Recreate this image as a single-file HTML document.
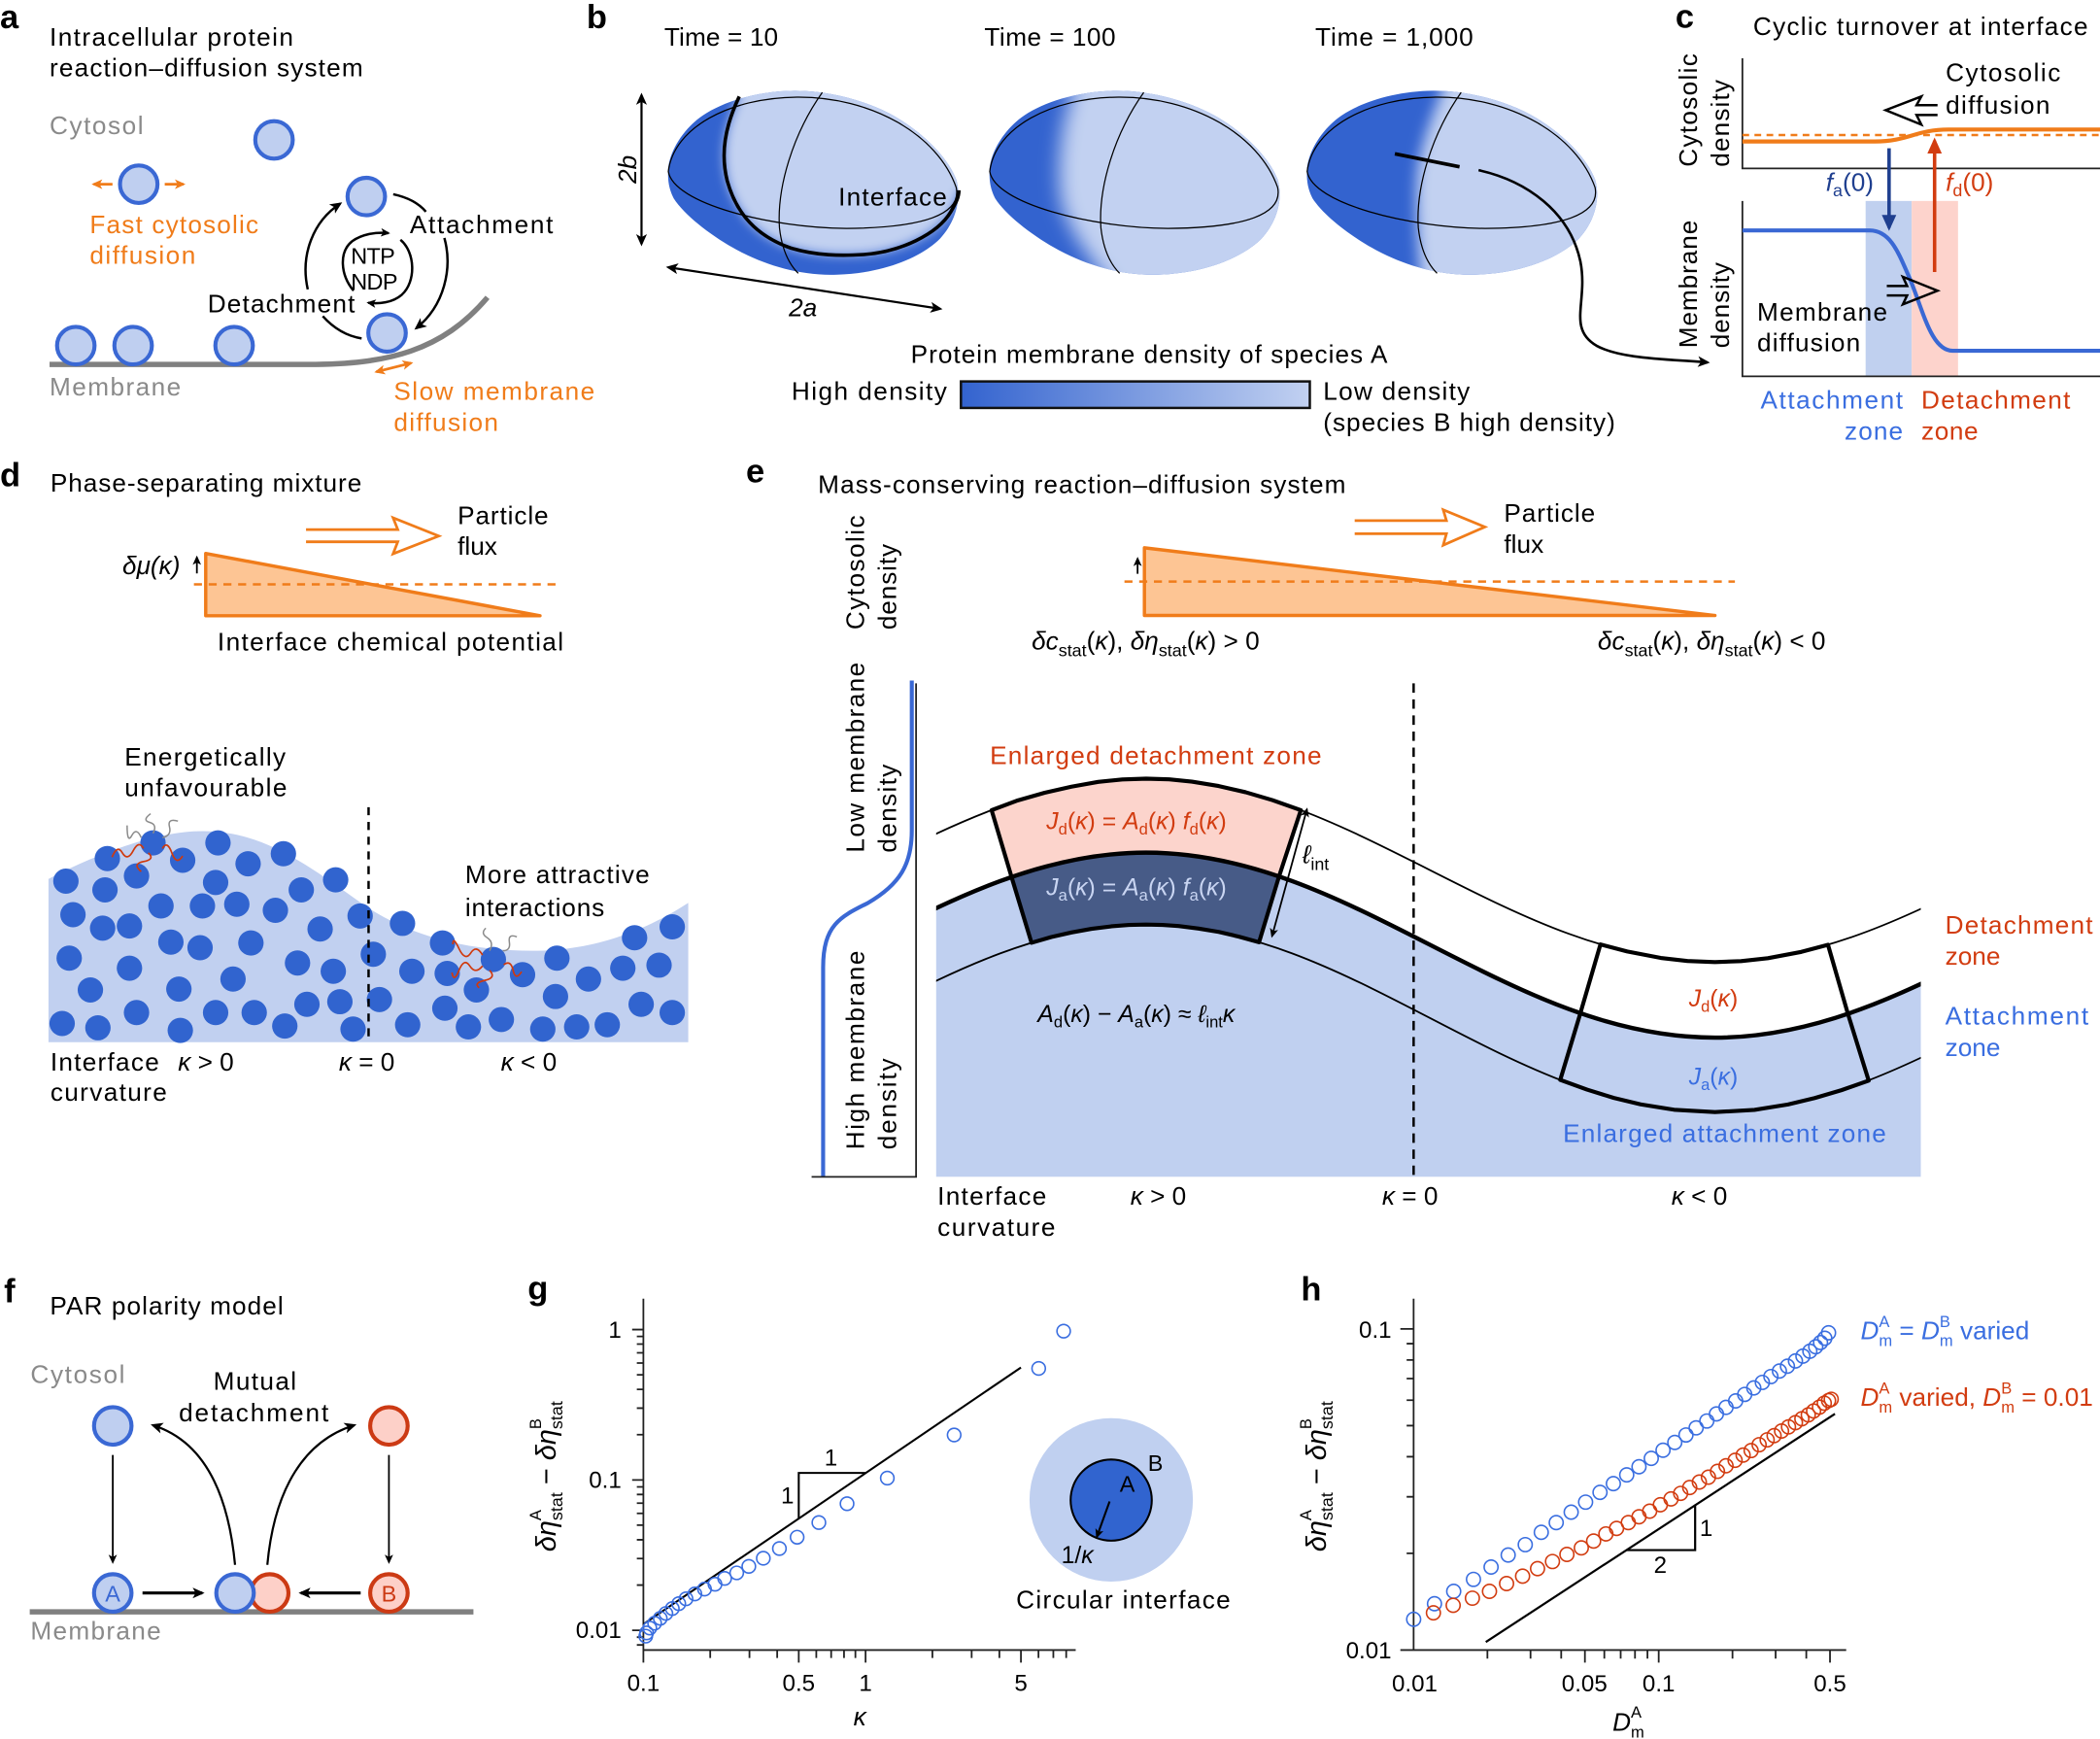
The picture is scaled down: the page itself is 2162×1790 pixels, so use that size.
<!DOCTYPE html>
<html><head><meta charset="utf-8"><style>
html,body{margin:0;padding:0;background:#fff;}
svg{display:block;}
text{font-family:"Liberation Sans",Arial,sans-serif;}
</style></head><body>
<svg width="2162" height="1790" viewBox="0 0 1568 1298" preserveAspectRatio="none" xmlns="http://www.w3.org/2000/svg">
<defs>
<marker id="mk" viewBox="0 0 10 10" refX="8" refY="5" markerWidth="9" markerHeight="9" markerUnits="userSpaceOnUse" orient="auto-start-reverse"><path d="M0,0.5 L10,5 L0,9.5 L2.5,5 Z" fill="#000"/></marker>
<marker id="mks" viewBox="0 0 10 10" refX="8" refY="5" markerWidth="7" markerHeight="7" markerUnits="userSpaceOnUse" orient="auto-start-reverse"><path d="M0,0.5 L10,5 L0,9.5 L2.5,5 Z" fill="#000"/></marker>
<marker id="mkO" viewBox="0 0 10 10" refX="8" refY="5" markerWidth="8" markerHeight="8" markerUnits="userSpaceOnUse" orient="auto-start-reverse"><path d="M0,0.5 L10,5 L0,9.5 L2.5,5 Z" fill="#f07c1a"/></marker>
<marker id="mkN" viewBox="0 0 10 10" refX="8" refY="5" markerWidth="12" markerHeight="12" markerUnits="userSpaceOnUse" orient="auto-start-reverse"><path d="M0,0.5 L10,5 L0,9.5 Z" fill="#1f3f8f"/></marker>
<marker id="mkR" viewBox="0 0 10 10" refX="8" refY="5" markerWidth="12" markerHeight="12" markerUnits="userSpaceOnUse" orient="auto-start-reverse"><path d="M0,0.5 L10,5 L0,9.5 Z" fill="#d23c10"/></marker>
<linearGradient id="cbar" x1="0" x2="1" y1="0" y2="0"><stop offset="0" stop-color="#3363cf"/><stop offset="1" stop-color="#c2d1f1"/></linearGradient>
<filter id="bl4" x="-50%" y="-50%" width="200%" height="200%"><feGaussianBlur stdDeviation="4"/></filter>
<filter id="bl7" x="-50%" y="-50%" width="200%" height="200%"><feGaussianBlur stdDeviation="7"/></filter>
<filter id="bl5" x="-50%" y="-50%" width="200%" height="200%"><feGaussianBlur stdDeviation="5"/></filter>
<clipPath id="el1"><path d="M498.8,128 C499,114 510,96 525,86 C540,76 565,68 593,67.7 C620,67.5 650,76 670,88 C690,100 708,118 714,134 C718,148 714,165 702,178 C688,192 660,204 625,205 C600,206 575,199 555,189 C535,179 512,162 503,148 C499,140 498.8,134 498.8,128 Z"/></clipPath>
<clipPath id="el2"><path transform="translate(240,0)" d="M498.8,128 C499,114 510,96 525,86 C540,76 565,68 593,67.7 C620,67.5 650,76 670,88 C690,100 708,118 714,134 C718,148 714,165 702,178 C688,192 660,204 625,205 C600,206 575,199 555,189 C535,179 512,162 503,148 C499,140 498.8,134 498.8,128 Z"/></clipPath>
<clipPath id="el3"><path transform="translate(477,0)" d="M498.8,128 C499,114 510,96 525,86 C540,76 565,68 593,67.7 C620,67.5 650,76 670,88 C690,100 708,118 714,134 C718,148 714,165 702,178 C688,192 660,204 625,205 C600,206 575,199 555,189 C535,179 512,162 503,148 C499,140 498.8,134 498.8,128 Z"/></clipPath>
<clipPath id="eclip"><rect x="699" y="400" width="735.2" height="478.4"/></clipPath>
</defs>

<!-- ================= PANEL A ================= -->
<text x="0" y="21" font-size="25" font-weight="bold">a</text>
<text x="37" y="34" font-size="19" textLength="182">Intracellular protein</text>
<text x="37" y="57" font-size="19" textLength="234">reaction–diffusion system</text>
<text x="37" y="100" font-size="19" fill="#8a8a8a" textLength="70">Cytosol</text>
<path d="M37,272 L230,272 C290,272 330,262 364,222" fill="none" stroke="#808080" stroke-width="4"/>
<g fill="#bfcff0" stroke="#3a68d4" stroke-width="3">
<circle cx="204.6" cy="104.4" r="14"/>
<circle cx="103.6" cy="137.5" r="14"/>
<circle cx="273.5" cy="146.7" r="14"/>
<circle cx="289" cy="248.5" r="14"/>
<circle cx="56.6" cy="258" r="14"/>
<circle cx="99.4" cy="258" r="14"/>
<circle cx="174.8" cy="258" r="14"/>
</g>
<g stroke="#f07c1a" stroke-width="2" fill="none">
<path d="M84,137.5 L70,137.5" marker-end="url(#mkO)"/>
<path d="M123,137.5 L137,137.5" marker-end="url(#mkO)"/>
<path d="M281,277.5 L307,271" marker-start="url(#mkO)" marker-end="url(#mkO)"/>
</g>
<g stroke="#000" stroke-width="1.8" fill="none">
<path d="M229.8,216 C224,190 234,165 254,152" marker-end="url(#mk)"/>
<path d="M241,236 C250,246 260,251 270,252.6"/>
<path d="M293.6,145 C303,147 312,151 318,158"/>
<path d="M331.8,177.6 C338,200 332,228 310.8,245" marker-end="url(#mk)"/>
<path d="M264,217 C254,205 253,188 263,180 C270,175 280,173 290,174" marker-end="url(#mks)"/>
<path d="M299,179 C310,188 311,210 300,220 C293,226 283,227 275,226" marker-end="url(#mks)"/>
</g>
<text x="262" y="197" font-size="17" textLength="33">NTP</text>
<text x="262" y="216" font-size="17" textLength="35">NDP</text>
<text x="306" y="174" font-size="19" textLength="107">Attachment</text>
<text x="155" y="233" font-size="19" textLength="110">Detachment</text>
<text x="67" y="174" font-size="19" fill="#f07c1a" textLength="126">Fast cytosolic</text>
<text x="67" y="197" font-size="19" fill="#f07c1a" textLength="79">diffusion</text>
<text x="37" y="295" font-size="19" fill="#8a8a8a" textLength="98">Membrane</text>
<text x="294" y="298.5" font-size="19" fill="#f07c1a" textLength="150">Slow membrane</text>
<text x="294" y="321.5" font-size="19" fill="#f07c1a" textLength="78">diffusion</text>

<!-- ================= PANEL B ================= -->
<text x="438" y="21" font-size="25" font-weight="bold">b</text>
<text x="496" y="34" font-size="19" textLength="85">Time = 10</text>
<text x="735" y="34" font-size="19" textLength="98">Time = 100</text>
<text x="982" y="34" font-size="19" textLength="118">Time = 1,000</text>

<g clip-path="url(#el1)">
<rect x="480" y="50" width="260" height="170" fill="#3363cf"/>
<path d="M552,50 L552,72 C541,95 538,115 543,135 C550,160 565,176 590,185 C610,191 628,191 645,190 C672,188 700,175 710,158 C714,151 716,147 716,142 L770,142 L770,50 Z" fill="#c2d1f1" filter="url(#bl4)"/>
</g>
<g clip-path="url(#el2)">
<rect x="720" y="50" width="260" height="170" fill="#3363cf"/>
<path d="M808,40 L800,72 C792,95 789,125 792,148 C796,170 812,190 838,225 L990,225 L990,40 Z" fill="#c2d1f1" filter="url(#bl7)"/>
</g>
<g clip-path="url(#el3)">
<rect x="960" y="50" width="260" height="170" fill="#3363cf"/>
<path d="M1082,40 L1076,70 C1066,95 1059,115 1058,135 C1057,160 1059,185 1062,225 L1220,225 L1220,40 Z" fill="#c2d1f1" filter="url(#bl5)"/>
</g>
<g fill="none" stroke="#000" stroke-width="0.9">
<path d="M499,128 C503,95 545,73 595,72.5 C650,72 700,100 714,140 C718,160 690,170 632,170.5 C575,170 503,152 499,128 Z"/>
<path d="M614,69 C592,100 580,140 582,170 C584,188 590,198 596,204"/>
<path transform="translate(240,0)" d="M499,128 C503,95 545,73 595,72.5 C650,72 700,100 714,140 C718,160 690,170 632,170.5 C575,170 503,152 499,128 Z"/>
<path transform="translate(240,0)" d="M614,69 C592,100 580,140 582,170 C584,188 590,198 596,204"/>
<path transform="translate(477,0)" d="M499,128 C503,95 545,73 595,72.5 C650,72 700,100 714,140 C718,160 690,170 632,170.5 C575,170 503,152 499,128 Z"/>
<path transform="translate(477,0)" d="M614,69 C592,100 580,140 582,170 C584,188 590,198 596,204"/>
</g>
<path d="M552,72 C541,95 538,115 543,135 C550,160 565,176 590,185 C610,191 628,191 645,190 C672,188 700,175 710,158 C714,151 716,147 716,142" fill="none" stroke="#000" stroke-width="2.6"/>
<text x="626" y="153.5" font-size="19" textLength="81">Interface</text>
<path d="M479,71 L479,182" stroke="#000" stroke-width="1.6" marker-start="url(#mk)" marker-end="url(#mk)"/>
<text transform="translate(475,137) rotate(-90)" font-size="19" font-style="italic">2b</text>
<path d="M499,199.5 L702,230.5" stroke="#000" stroke-width="1.6" marker-start="url(#mk)" marker-end="url(#mk)"/>
<text x="589" y="236" font-size="19" font-style="italic">2a</text>
<path d="M1041.5,114.8 L1089.8,124.5" stroke="#000" stroke-width="2.6"/>
<path d="M1104,127 C1140,135 1172,158 1180,195 C1186,225 1170,245 1192,258 C1210,268 1245,268 1275,270.5" fill="none" stroke="#000" stroke-width="1.9" marker-end="url(#mk)"/>
<text x="680" y="271" font-size="19" textLength="356">Protein membrane density of species A</text>
<text x="591" y="298.5" font-size="19" textLength="116">High density</text>
<rect x="717.5" y="284.7" width="260.5" height="19.8" fill="url(#cbar)" stroke="#111" stroke-width="1.8"/>
<text x="988" y="298.5" font-size="19" textLength="109.5">Low density</text>
<text x="988" y="321.5" font-size="19" textLength="218">(species B high density)</text>

<!-- ================= PANEL C ================= -->
<text x="1251" y="20.5" font-size="25" font-weight="bold">c</text>
<text x="1309" y="26" font-size="19" textLength="250">Cyclic turnover at interface</text>
<text transform="translate(1267,124.5) rotate(-90)" font-size="19" textLength="84.5">Cytosolic</text>
<text transform="translate(1291,124.5) rotate(-90)" font-size="19" textLength="65">density</text>
<text transform="translate(1267,259.8) rotate(-90)" font-size="19" textLength="95.4">Membrane</text>
<text transform="translate(1291,259.8) rotate(-90)" font-size="19" textLength="64">density</text>
<rect x="1393" y="150" width="34.4" height="130.5" fill="#c0d0ef"/>
<rect x="1427.4" y="150" width="34.6" height="130.5" fill="#fdd3cc"/>
<path d="M1301,43.5 L1301,125.7 L1568,125.7" fill="none" stroke="#222" stroke-width="1.3"/>
<path d="M1301,150 L1301,280.9 L1568,280.9" fill="none" stroke="#222" stroke-width="1.3"/>
<path d="M1301,100.8 L1568,100.8" stroke="#f07c1a" stroke-width="1.8" stroke-dasharray="5,4"/>
<path d="M1301,105.6 L1400,105.6 C1425,105.6 1430,96.7 1455,96.7 L1568,96.7" fill="none" stroke="#f07c1a" stroke-width="3"/>
<path d="M1301,172 L1396,172 C1412,172 1418,190 1426,208 C1436,232 1442,261.8 1458,261.8 L1568,261.8" fill="none" stroke="#3a68d4" stroke-width="3"/>
<path d="M1410.5,110.7 L1410.5,170" stroke="#1f3f8f" stroke-width="2.6" marker-end="url(#mkN)"/>
<path d="M1444.5,203 L1444.5,105" stroke="#d23c10" stroke-width="2.6" marker-end="url(#mkR)"/>
<path d="M1446.7,78.5 L1431,78.5 L1434.6,72 L1408,82.2 L1434.6,93 L1431,85.8 L1446.7,85.8" fill="none" stroke="#000" stroke-width="1.8"/>
<path d="M1408.8,213.5 L1424,213.5 L1420.8,206.6 L1446.7,217 L1420.8,227.2 L1424,220.5 L1408.8,220.5" fill="none" stroke="#000" stroke-width="1.8"/>
<text x="1452.8" y="60.4" font-size="19" textLength="85.7">Cytosolic</text>
<text x="1452.8" y="85" font-size="19" textLength="77.8">diffusion</text>
<text x="1363.3" y="142.6" font-size="19" fill="#1f3f8f"><tspan font-style="italic">f</tspan><tspan font-size="13" dy="4">a</tspan><tspan dy="-4">(0)</tspan></text>
<text x="1452.8" y="142.6" font-size="19" fill="#d23c10"><tspan font-style="italic">f</tspan><tspan font-size="13" dy="4">d</tspan><tspan dy="-4">(0)</tspan></text>
<text x="1312" y="239.3" font-size="19" textLength="97.2">Membrane</text>
<text x="1312" y="262.2" font-size="19" textLength="77">diffusion</text>
<text x="1314.5" y="305" font-size="19" fill="#3a6ee0" textLength="106.3">Attachment</text>
<text x="1377.3" y="328" font-size="19" fill="#3a6ee0" textLength="43.5">zone</text>
<text x="1434.6" y="305" font-size="19" fill="#d23c10" textLength="111.2">Detachment</text>
<text x="1434.6" y="328" font-size="19" fill="#d23c10" textLength="42.4">zone</text>

<!-- ================= PANEL D ================= -->
<text x="0" y="363" font-size="25" font-weight="bold">d</text>
<text x="37.6" y="367" font-size="19" textLength="232.4">Phase-separating mixture</text>
<path d="M228.5,395.3 L297,395.3 L293.5,386.5 L327.6,400.1 L293.5,413.4 L297,404.4 L228.5,404.4" fill="none" stroke="#f07c1a" stroke-width="2"/>
<text x="341.7" y="391.4" font-size="19" textLength="67.8">Particle</text>
<text x="341.7" y="414.1" font-size="19">flux</text>
<polygon points="153.6,413.1 153.6,459.6 403.2,459.6" fill="#fdc594" stroke="#f07c1a" stroke-width="2.5" stroke-linejoin="round"/>
<path d="M144.8,436.2 L416.5,436.2" stroke="#f07c1a" stroke-width="1.8" stroke-dasharray="6,5"/>
<path d="M147,428 L147,416" stroke="#000" stroke-width="1.3" marker-end="url(#mks)"/>
<text x="91.4" y="428.7" font-size="19" font-style="italic">δμ(κ)</text>
<text x="162.4" y="485.6" font-size="19" textLength="258.3">Interface chemical potential</text>
<text x="93" y="571.6" font-size="19" textLength="120.3">Energetically</text>
<text x="93" y="594.4" font-size="19" textLength="121.3">unfavourable</text>
<g transform="translate(0,332.9) scale(0.3515,0.3248)">
<path d="M103,995 C200,940 330,885 430,885 C560,885 650,960 780,1060 C880,1130 1000,1160 1130,1160 C1280,1160 1390,1100 1462,1050 L1462,1370 L103,1370 Z" fill="#c1d0f0"/>
<g fill="#3164cf">
<ellipse cx="140" cy="1000" rx="27" ry="29"/><ellipse cx="228" cy="948" rx="27" ry="29"/><ellipse cx="290" cy="988" rx="27" ry="29"/><ellipse cx="325" cy="912" rx="27" ry="29"/><ellipse cx="388" cy="952" rx="27" ry="29"/><ellipse cx="463" cy="912" rx="27" ry="29"/><ellipse cx="527" cy="960" rx="27" ry="29"/><ellipse cx="602" cy="937" rx="27" ry="29"/><ellipse cx="713" cy="997" rx="27" ry="29"/><ellipse cx="223" cy="1020" rx="27" ry="29"/><ellipse cx="155" cy="1077" rx="27" ry="29"/><ellipse cx="218" cy="1108" rx="27" ry="29"/><ellipse cx="275" cy="1103" rx="27" ry="29"/><ellipse cx="342" cy="1057" rx="27" ry="29"/><ellipse cx="430" cy="1057" rx="27" ry="29"/><ellipse cx="503" cy="1053" rx="27" ry="29"/><ellipse cx="585" cy="1067" rx="27" ry="29"/><ellipse cx="640" cy="1020" rx="27" ry="29"/><ellipse cx="458" cy="1003" rx="27" ry="29"/><ellipse cx="680" cy="1110" rx="27" ry="29"/><ellipse cx="765" cy="1080" rx="27" ry="29"/><ellipse cx="147" cy="1177" rx="27" ry="29"/><ellipse cx="275" cy="1200" rx="27" ry="29"/><ellipse cx="363" cy="1140" rx="27" ry="29"/><ellipse cx="425" cy="1153" rx="27" ry="29"/><ellipse cx="533" cy="1142" rx="27" ry="29"/><ellipse cx="632" cy="1188" rx="27" ry="29"/><ellipse cx="708" cy="1207" rx="27" ry="29"/><ellipse cx="793" cy="1168" rx="27" ry="29"/><ellipse cx="855" cy="1097" rx="27" ry="29"/><ellipse cx="940" cy="1142" rx="27" ry="29"/><ellipse cx="192" cy="1250" rx="27" ry="29"/><ellipse cx="380" cy="1248" rx="27" ry="29"/><ellipse cx="495" cy="1225" rx="27" ry="29"/><ellipse cx="652" cy="1283" rx="27" ry="29"/><ellipse cx="722" cy="1277" rx="27" ry="29"/><ellipse cx="806" cy="1272" rx="27" ry="29"/><ellipse cx="875" cy="1207" rx="27" ry="29"/><ellipse cx="950" cy="1212" rx="27" ry="29"/><ellipse cx="1012" cy="1250" rx="27" ry="29"/><ellipse cx="1048" cy="1180" rx="27" ry="29"/><ellipse cx="1110" cy="1215" rx="27" ry="29"/><ellipse cx="1183" cy="1177" rx="27" ry="29"/><ellipse cx="1250" cy="1225" rx="27" ry="29"/><ellipse cx="1323" cy="1200" rx="27" ry="29"/><ellipse cx="1348" cy="1130" rx="27" ry="29"/><ellipse cx="1428" cy="1105" rx="27" ry="29"/><ellipse cx="1400" cy="1193" rx="27" ry="29"/><ellipse cx="1362" cy="1283" rx="27" ry="29"/><ellipse cx="1428" cy="1302" rx="27" ry="29"/><ellipse cx="1290" cy="1330" rx="27" ry="29"/><ellipse cx="1225" cy="1335" rx="27" ry="29"/><ellipse cx="1153" cy="1340" rx="27" ry="29"/><ellipse cx="1065" cy="1318" rx="27" ry="29"/><ellipse cx="995" cy="1335" rx="27" ry="29"/><ellipse cx="945" cy="1292" rx="27" ry="29"/><ellipse cx="1180" cy="1265" rx="27" ry="29"/><ellipse cx="866" cy="1330" rx="27" ry="29"/><ellipse cx="750" cy="1340" rx="27" ry="29"/><ellipse cx="605" cy="1333" rx="27" ry="29"/><ellipse cx="540" cy="1302" rx="27" ry="29"/><ellipse cx="458" cy="1302" rx="27" ry="29"/><ellipse cx="383" cy="1343" rx="27" ry="29"/><ellipse cx="290" cy="1302" rx="27" ry="29"/><ellipse cx="208" cy="1337" rx="27" ry="29"/><ellipse cx="132" cy="1327" rx="27" ry="29"/>
</g>
<g fill="none" stroke="#d0390c" stroke-width="1.7">
<path vector-effect="non-scaling-stroke" d="M305,925 Q295,905 283,930 T260,935 T238,945"/>
<path vector-effect="non-scaling-stroke" d="M345,925 Q355,905 365,935 T388,942"/>
<path vector-effect="non-scaling-stroke" d="M315,935 Q330,950 305,955 T300,978"/>
<path vector-effect="non-scaling-stroke" d="M1025,1170 Q1012,1145 1000,1165 T975,1155 T962,1145"/>
<path vector-effect="non-scaling-stroke" d="M1025,1195 Q1010,1215 998,1195 T975,1205 T960,1210"/>
<path vector-effect="non-scaling-stroke" d="M1040,1205 Q1055,1222 1030,1228 T1018,1245"/>
<path vector-effect="non-scaling-stroke" d="M1070,1192 Q1085,1180 1090,1205 T1108,1208"/>
</g>
<g fill="none" stroke="#8a8a8a" stroke-width="1.5">
<path vector-effect="non-scaling-stroke" d="M300,900 Q290,875 280,895 T270,872"/>
<path vector-effect="non-scaling-stroke" d="M325,890 Q335,870 318,865 T320,845"/>
<path vector-effect="non-scaling-stroke" d="M345,900 Q365,895 360,875 T378,862"/>
<path vector-effect="non-scaling-stroke" d="M1040,1160 Q1050,1140 1035,1130 T1032,1108"/>
<path vector-effect="non-scaling-stroke" d="M1068,1160 Q1085,1160 1082,1140 T1098,1128"/>
</g>
</g>
<path d="M275.2,602.5 L275.2,777.9" stroke="#000" stroke-width="1.8" stroke-dasharray="6,5"/>
<text x="347.3" y="659.3" font-size="19" textLength="137.7">More attractive</text>
<text x="347.3" y="683.7" font-size="19" textLength="104">interactions</text>
<text x="37.6" y="799" font-size="19" textLength="81.2">Interface</text>
<text x="37.6" y="821.7" font-size="19" textLength="87">curvature</text>
<text x="132.9" y="799" font-size="19"><tspan font-style="italic">κ</tspan> &gt; 0</text>
<text x="253" y="799" font-size="19"><tspan font-style="italic">κ</tspan> = 0</text>
<text x="374" y="799" font-size="19"><tspan font-style="italic">κ</tspan> &lt; 0</text>

<!-- ================= PANEL E ================= -->
<text x="557" y="360" font-size="25" font-weight="bold">e</text>
<text x="610.8" y="368" font-size="19" textLength="394">Mass-conserving reaction–diffusion system</text>
<text transform="translate(645,470) rotate(-90)" font-size="19" textLength="85.4">Cytosolic</text>
<text transform="translate(669,470) rotate(-90)" font-size="19" textLength="64">density</text>
<text transform="translate(645,636.4) rotate(-90)" font-size="19" textLength="142">Low membrane</text>
<text transform="translate(669,636.4) rotate(-90)" font-size="19" textLength="66">density</text>
<text transform="translate(645,858) rotate(-90)" font-size="19" textLength="148.4">High membrane</text>
<text transform="translate(669,858) rotate(-90)" font-size="19" textLength="68">density</text>
<path d="M1011.5,388.6 L1080,388.6 L1077.6,380.5 L1108.7,393.3 L1077.6,406.9 L1080,398.4 L1011.5,398.4" fill="none" stroke="#f07c1a" stroke-width="2"/>
<text x="1123" y="389.4" font-size="19" textLength="68">Particle</text>
<text x="1123" y="412.7" font-size="19">flux</text>
<polygon points="854.5,408.9 854.5,459.4 1280.5,459.4" fill="#fdc594" stroke="#f07c1a" stroke-width="2.5" stroke-linejoin="round"/>
<path d="M839.6,434.1 L1295.4,434.1" stroke="#f07c1a" stroke-width="1.8" stroke-dasharray="6,5"/>
<path d="M849.4,428.3 L849.4,417" stroke="#000" stroke-width="1.3" marker-end="url(#mks)"/>
<text x="770.3" y="484.7" font-size="19"><tspan font-style="italic">δc</tspan><tspan font-size="13" dy="5">stat</tspan><tspan dy="-5">(</tspan><tspan font-style="italic">κ</tspan>), <tspan font-style="italic">δη</tspan><tspan font-size="13" dy="5">stat</tspan><tspan dy="-5">(</tspan><tspan font-style="italic">κ</tspan>) &gt; 0</text>
<text x="1193" y="484.7" font-size="19"><tspan font-style="italic">δc</tspan><tspan font-size="13" dy="5">stat</tspan><tspan dy="-5">(</tspan><tspan font-style="italic">κ</tspan>), <tspan font-style="italic">δη</tspan><tspan font-size="13" dy="5">stat</tspan><tspan dy="-5">(</tspan><tspan font-style="italic">κ</tspan>) &lt; 0</text>
<path d="M614.6,878.4 L614.6,722 C614.6,690 628,684 648,674 C672,660 680.8,645 680.8,620 L680.8,508" fill="none" stroke="#3a68d4" stroke-width="3"/>
<path d="M684,510 L684,878.4 L606,878.4" fill="none" stroke="#222" stroke-width="1.3"/>

<g clip-path="url(#eclip)">
<path d="M643.45,705.45 C712.7,670.1 778.95,636.4 855.8,636.4 C932.65,636.4 998.9,670.1 1068.15,705.45 C1137.4,740.8 1203.6,774.5 1280.5,774.5 C1357.3,774.5 1423.6,740.8 1492.8,705.45 L1492.8,878.4 L643.45,878.4 Z" fill="#c0d0f0"/>
<polygon points="740.4,604.7 780,591.7 820,583.6 855.8,581.2 890,583.4 930,591.3 971.3,604.7 955,654.2 920,644.1 890,638.6 855.8,636.4 820,638.8 790,644.4 755.3,654.6" fill="#fcd4cc"/>
<polygon points="755.3,654.6 790,644.4 820,638.8 855.8,636.4 890,638.6 920,644.1 955,654.2 940.1,703.3 910,695.6 880,691.2 855.8,690.1 830,691.4 800,696 770.2,703.7" fill="#475b87"/>
<path d="M643.45,649.65 C712.7,614.6 778.95,581.2 855.8,581.2 C932.65,581.2 998.9,614.6 1068.15,649.65 C1137.4,684.7 1203.6,718.1 1280.5,718.1 C1357.3,718.1 1423.6,684.7 1492.8,649.65" fill="none" stroke="#000" stroke-width="1.3"/>
<path d="M643.45,705.45 C712.7,670.1 778.95,636.4 855.8,636.4 C932.65,636.4 998.9,670.1 1068.15,705.45 C1137.4,740.8 1203.6,774.5 1280.5,774.5 C1357.3,774.5 1423.6,740.8 1492.8,705.45" fill="none" stroke="#000" stroke-width="3.2"/>
<path d="M643.45,760.1 C712.7,724.2 778.95,690.1 855.8,690.1 C932.65,690.1 998.9,724.2 1068.15,760.1 C1137.4,796 1203.6,830.1 1280.5,830.1 C1357.3,830.1 1423.6,796 1492.8,760.1" fill="none" stroke="#000" stroke-width="1.3"/>
</g>
<g fill="none" stroke="#000" stroke-width="3" stroke-linejoin="round">
<polyline points="755.3,654.6 740.4,604.7 760,597.4 780,591.7 800,587.2 820,583.6 838,581.8 855.8,581.2 873,581.7 890,583.4 910,586.7 930,591.3 950,597.2 971.3,604.7 955,654.2"/>
<polyline points="755.3,654.6 770.2,703.7 785,699.4 800,696 815,693.3 830,691.4 843,690.4 855.8,690.1 868,690.4 880,691.2 895,693.1 910,695.6 925,699.1 940.1,703.3 955,654.2"/>
<polyline points="1180,756.3 1195,704.9 1215,710.2 1240,715 1260,717.3 1280.5,718.1 1300,717.4 1320,715.2 1345,710.5 1364.9,705.2 1379.8,756.8"/>
<polyline points="1180,756.3 1165,806 1185,813.3 1205,819.5 1225,824.3 1250,828.3 1280.5,830.1 1310,828.4 1335,824.4 1355,819.6 1375,813.7 1395.3,806.6 1379.8,756.8"/>
</g>
<path d="M1055.5,510 L1055.5,878.4" stroke="#000" stroke-width="1.8" stroke-dasharray="7,5"/>
<path d="M975.8,604.1 L949.8,698.7" stroke="#000" stroke-width="1.3" marker-start="url(#mks)" marker-end="url(#mks)"/>
<text x="972.5" y="644.2" font-size="19"><tspan font-style="italic">ℓ</tspan><tspan font-size="13" dy="5">int</tspan></text>
<text x="739.1" y="570.3" font-size="19" fill="#d23c10" textLength="247.7">Enlarged detachment zone</text>
<text x="781.3" y="618.9" font-size="18" fill="#d23c10" font-style="italic">J<tspan font-style="normal" font-size="12" dy="4">d</tspan><tspan font-style="normal" dy="-4">(</tspan>κ<tspan font-style="normal">) = </tspan>A<tspan font-style="normal" font-size="12" dy="4">d</tspan><tspan font-style="normal" dy="-4">(</tspan>κ<tspan font-style="normal">) </tspan>f<tspan font-style="normal" font-size="12" dy="4">d</tspan><tspan font-style="normal" dy="-4">(</tspan>κ<tspan font-style="normal">)</tspan></text>
<text x="781.3" y="668.3" font-size="18" fill="#c9d5f2" font-style="italic">J<tspan font-style="normal" font-size="12" dy="4">a</tspan><tspan font-style="normal" dy="-4">(</tspan>κ<tspan font-style="normal">) = </tspan>A<tspan font-style="normal" font-size="12" dy="4">a</tspan><tspan font-style="normal" dy="-4">(</tspan>κ<tspan font-style="normal">) </tspan>f<tspan font-style="normal" font-size="12" dy="4">a</tspan><tspan font-style="normal" dy="-4">(</tspan>κ<tspan font-style="normal">)</tspan></text>
<text x="774.8" y="762.8" font-size="18" font-style="italic">A<tspan font-style="normal" font-size="12" dy="4">d</tspan><tspan font-style="normal" dy="-4">(</tspan>κ<tspan font-style="normal">) − </tspan>A<tspan font-style="normal" font-size="12" dy="4">a</tspan><tspan font-style="normal" dy="-4">(</tspan>κ<tspan font-style="normal">) ≈ </tspan>ℓ<tspan font-style="normal" font-size="12" dy="4">int</tspan><tspan dy="-4">κ</tspan></text>
<text x="1261" y="751.2" font-size="18" fill="#d23c10" font-style="italic">J<tspan font-style="normal" font-size="12" dy="4">d</tspan><tspan font-style="normal" dy="-4">(</tspan>κ<tspan font-style="normal">)</tspan></text>
<text x="1261" y="809.5" font-size="18" fill="#3a6ee0" font-style="italic">J<tspan font-style="normal" font-size="12" dy="4">a</tspan><tspan font-style="normal" dy="-4">(</tspan>κ<tspan font-style="normal">)</tspan></text>
<text x="1167" y="852.3" font-size="19" fill="#3a6ee0" textLength="241.3">Enlarged attachment zone</text>
<text x="1452.4" y="696.7" font-size="19" fill="#d23c10" textLength="110.2">Detachment</text>
<text x="1452.4" y="720" font-size="19" fill="#d23c10">zone</text>
<text x="1452.4" y="764.8" font-size="19" fill="#3a6ee0" textLength="107">Attachment</text>
<text x="1452.4" y="788.1" font-size="19" fill="#3a6ee0">zone</text>
<text x="700" y="899" font-size="19" textLength="81.3">Interface</text>
<text x="700" y="922.3" font-size="19" textLength="88">curvature</text>
<text x="844" y="899" font-size="19"><tspan font-style="italic">κ</tspan> &gt; 0</text>
<text x="1032" y="899" font-size="19"><tspan font-style="italic">κ</tspan> = 0</text>
<text x="1248" y="899" font-size="19"><tspan font-style="italic">κ</tspan> &lt; 0</text>

<!-- ================= PANEL F ================= -->
<text x="3" y="972" font-size="25" font-weight="bold">f</text>
<text x="37.3" y="981" font-size="19" textLength="174.3">PAR polarity model</text>
<text x="22.8" y="1032.3" font-size="19" fill="#8a8a8a" textLength="70.4">Cytosol</text>
<text x="159.3" y="1037.2" font-size="19" textLength="62">Mutual</text>
<text x="133.5" y="1060.9" font-size="19" textLength="111.8">detachment</text>
<path d="M22.2,1203.1 L353.5,1203.1" stroke="#808080" stroke-width="4"/>
<circle cx="84.2" cy="1064.3" r="14" fill="#bfcff0" stroke="#3a68d4" stroke-width="3"/>
<circle cx="290.4" cy="1064.3" r="14" fill="#fdd0c8" stroke="#cc3a14" stroke-width="3"/>
<circle cx="84.2" cy="1189" r="14" fill="#bfcff0" stroke="#3a68d4" stroke-width="3"/>
<circle cx="201.4" cy="1189" r="14" fill="#fdd0c8" stroke="#cc3a14" stroke-width="3"/>
<circle cx="175.5" cy="1189" r="14" fill="#bfcff0" stroke="#3a68d4" stroke-width="3"/>
<circle cx="290.4" cy="1189" r="14" fill="#fdd0c8" stroke="#cc3a14" stroke-width="3"/>
<text x="84.2" y="1195.5" font-size="17" fill="#3a68d4" text-anchor="middle">A</text>
<text x="290.4" y="1195.5" font-size="17" fill="#cc3a14" text-anchor="middle">B</text>
<g stroke="#000" fill="none">
<path d="M84.2,1086 L84.2,1166" stroke-width="1.3" marker-end="url(#mks)"/>
<path d="M290.4,1086 L290.4,1166" stroke-width="1.3" marker-end="url(#mks)"/>
<path d="M106.4,1189 L151,1189" stroke-width="2.2" marker-end="url(#mk)"/>
<path d="M269.3,1189 L224.7,1189" stroke-width="2.2" marker-end="url(#mk)"/>
<path d="M175.5,1168 C170,1110 150,1075 114.2,1063.8" stroke-width="1.6" marker-end="url(#mk)"/>
<path d="M199.6,1168 C205,1110 228,1075 264.5,1063.8" stroke-width="1.6" marker-end="url(#mk)"/>
</g>
<text x="22.8" y="1223.7" font-size="19" fill="#8a8a8a" textLength="97.4">Membrane</text>

<!-- ================= PANEL G ================= -->
<text x="394" y="970" font-size="25" font-weight="bold">g</text>
<g stroke="#222" stroke-width="1.3" fill="none">
<path d="M480.4,969.3 L480.4,1231.6 L803.2,1231.6"/>
<path d="M472,992.4 L480.4,992.4 M472,1104.65 L480.4,1104.65 M472,1216.9 L480.4,1216.9"/>
<path d="M475.5,997.55 H480.4 M475.5,1003.25 H480.4 M475.5,1009.75 H480.4 M475.5,1017.35 H480.4 M475.5,1026.15 H480.4 M475.5,1037.05 H480.4 M475.5,1051.05 H480.4 M475.5,1070.85 H480.4 M475.5,1109.8 H480.4 M475.5,1115.5 H480.4 M475.5,1122 H480.4 M475.5,1129.6 H480.4 M475.5,1138.4 H480.4 M475.5,1149.3 H480.4 M475.5,1163.3 H480.4 M475.5,1183.1 H480.4 M475.5,1222 H480.4 M475.5,1227.8 H480.4"/>
<path d="M480.4,1231.6 V1241 M596.4,1231.6 V1241 M646.3,1231.6 V1241 M762.3,1231.6 V1241"/>
<path d="M530.3,1231.6 V1237.5 M559.6,1231.6 V1237.5 M580.3,1231.6 V1237.5 M609.5,1231.6 V1237.5 M620.6,1231.6 V1237.5 M630.2,1231.6 V1237.5 M638.7,1231.6 V1237.5 M696.2,1231.6 V1237.5 M725.5,1231.6 V1237.5 M746.2,1231.6 V1237.5 M775.4,1231.6 V1237.5 M786.5,1231.6 V1237.5 M796.1,1231.6 V1237.5"/>
</g>
<g font-size="17.5" text-anchor="end">
<text x="464" y="998.4">1</text>
<text x="464" y="1110.5">0.1</text>
<text x="464" y="1222.6">0.01</text>
</g>
<g font-size="17.5" text-anchor="middle">
<text x="480.4" y="1262">0.1</text>
<text x="596.4" y="1262">0.5</text>
<text x="646.3" y="1262">1</text>
<text x="762.3" y="1262">5</text>
</g>
<text x="642" y="1288" font-size="19" font-style="italic" text-anchor="middle">κ</text>
<text transform="translate(415,1102) rotate(-90)" text-anchor="middle" font-size="21"><tspan font-style="italic">δη</tspan><tspan font-size="13" dy="5">stat</tspan><tspan font-size="12" dx="-21" dy="-16">A</tspan><tspan dx="13" dy="11"> − </tspan><tspan font-style="italic">δη</tspan><tspan font-size="13" dy="5">stat</tspan><tspan font-size="12" dx="-21" dy="-16">B</tspan></text>
<path d="M480.4,1212.3 L762.3,1020.7" stroke="#000" stroke-width="1.5"/>
<path d="M596.4,1133.8 L596.4,1099.4 L646.3,1099.4" fill="none" stroke="#000" stroke-width="1.5"/>
<text x="620.4" y="1094" font-size="17.5" text-anchor="middle">1</text>
<text x="588" y="1122" font-size="17.5" text-anchor="middle">1</text>
<g transform="translate(0,942.7) scale(0.6012,0.2422)" fill="none" stroke="#3a6ee0">
<ellipse vector-effect="non-scaling-stroke" stroke-width="1.6" cx="1321" cy="210" rx="8.3" ry="20.6"/>
<ellipse vector-effect="non-scaling-stroke" stroke-width="1.6" cx="1290" cy="325" rx="8.3" ry="20.6"/>
<ellipse vector-effect="non-scaling-stroke" stroke-width="1.6" cx="1185" cy="530" rx="8.3" ry="20.6"/>
<ellipse vector-effect="non-scaling-stroke" stroke-width="1.6" cx="1102" cy="663" rx="8.3" ry="20.6"/>
<ellipse vector-effect="non-scaling-stroke" stroke-width="1.6" cx="1052" cy="742" rx="8.3" ry="20.6"/>
<ellipse vector-effect="non-scaling-stroke" stroke-width="1.6" cx="1017" cy="800" rx="8.3" ry="20.6"/>
<ellipse vector-effect="non-scaling-stroke" stroke-width="1.6" cx="990" cy="845" rx="8.3" ry="20.6"/>
<ellipse vector-effect="non-scaling-stroke" stroke-width="1.6" cx="968" cy="880" rx="8.3" ry="20.6"/>
<ellipse vector-effect="non-scaling-stroke" stroke-width="1.6" cx="948" cy="910" rx="8.3" ry="20.6"/>
<ellipse vector-effect="non-scaling-stroke" stroke-width="1.6" cx="930" cy="935" rx="8.3" ry="20.6"/>
<ellipse vector-effect="non-scaling-stroke" stroke-width="1.6" cx="915" cy="955" rx="8.3" ry="20.6"/>
<ellipse vector-effect="non-scaling-stroke" stroke-width="1.6" cx="900" cy="972" rx="8.3" ry="20.6"/>
<ellipse vector-effect="non-scaling-stroke" stroke-width="1.6" cx="888" cy="990" rx="8.3" ry="20.6"/>
<ellipse vector-effect="non-scaling-stroke" stroke-width="1.6" cx="875" cy="1005" rx="8.3" ry="20.6"/>
<ellipse vector-effect="non-scaling-stroke" stroke-width="1.6" cx="863" cy="1020" rx="8.3" ry="20.6"/>
<ellipse vector-effect="non-scaling-stroke" stroke-width="1.6" cx="852" cy="1035" rx="8.3" ry="20.6"/>
<ellipse vector-effect="non-scaling-stroke" stroke-width="1.6" cx="843" cy="1050" rx="8.3" ry="20.6"/>
<ellipse vector-effect="non-scaling-stroke" stroke-width="1.6" cx="835" cy="1065" rx="8.3" ry="20.6"/>
<ellipse vector-effect="non-scaling-stroke" stroke-width="1.6" cx="827" cy="1080" rx="8.3" ry="20.6"/>
<ellipse vector-effect="non-scaling-stroke" stroke-width="1.6" cx="820" cy="1095" rx="8.3" ry="20.6"/>
<ellipse vector-effect="non-scaling-stroke" stroke-width="1.6" cx="813" cy="1110" rx="8.3" ry="20.6"/>
<ellipse vector-effect="non-scaling-stroke" stroke-width="1.6" cx="807" cy="1125" rx="8.3" ry="20.6"/>
<ellipse vector-effect="non-scaling-stroke" stroke-width="1.6" cx="803" cy="1140" rx="8.3" ry="20.6"/>
<ellipse vector-effect="non-scaling-stroke" stroke-width="1.6" cx="802" cy="1150" rx="8.3" ry="20.6"/>
</g>
<circle cx="829.7" cy="1119.5" r="61" fill="#c0d0f0"/>
<circle cx="829.7" cy="1119.7" r="30.3" fill="#3164cf" stroke="#000" stroke-width="1.5"/>
<text x="841.7" y="1113.5" font-size="17" text-anchor="middle">A</text>
<text x="862.7" y="1097.7" font-size="17" text-anchor="middle">B</text>
<path d="M828.5,1120.7 L819,1147" stroke="#000" stroke-width="1.5" marker-end="url(#mks)"/>
<text x="792.4" y="1166.7" font-size="18">1/<tspan font-style="italic">κ</tspan></text>
<text x="758.7" y="1200.6" font-size="19" textLength="160">Circular interface</text>

<!-- ================= PANEL H ================= -->
<text x="971.4" y="970.5" font-size="25" font-weight="bold">h</text>
<g stroke="#222" stroke-width="1.3" fill="none">
<path d="M1055.5,969.3 L1055.5,1231.6 M1045.6,1231.6 L1378.5,1231.6"/>
<path d="M1045.6,991.9 H1055.5"/>
<path d="M1050.3,1002.9 H1055.5 M1050.3,1015.1 H1055.5 M1050.3,1029 H1055.5 M1050.3,1045.1 H1055.5 M1050.3,1064.1 H1055.5 M1050.3,1087.3 H1055.5 M1050.3,1117.2 H1055.5 M1050.3,1159.4 H1055.5"/>
<path d="M1183.4,1231.6 V1241 M1238.5,1231.6 V1241 M1366.4,1231.6 V1241"/>
<path d="M1110.6,1231.6 V1238 M1142.8,1231.6 V1238 M1165.7,1231.6 V1238 M1197.9,1231.6 V1238 M1210.1,1231.6 V1238 M1220.8,1231.6 V1238 M1230.1,1231.6 V1238 M1293.6,1231.6 V1238 M1325.8,1231.6 V1238 M1348.7,1231.6 V1238"/>
</g>
<g font-size="17.5" text-anchor="end">
<text x="1039" y="998.4">0.1</text>
<text x="1039" y="1237.7">0.01</text>
</g>
<g font-size="17.5" text-anchor="middle">
<text x="1056.3" y="1262.4">0.01</text>
<text x="1183.1" y="1262.4">0.05</text>
<text x="1238.5" y="1262.4">0.1</text>
<text x="1366.4" y="1262.4">0.5</text>
</g>
<text x="1204" y="1292" font-size="19"><tspan font-style="italic">D</tspan><tspan font-size="12" dy="-10">A</tspan><tspan font-size="12" dx="-8" dy="15">m</tspan></text>
<text transform="translate(990,1102) rotate(-90)" text-anchor="middle" font-size="21"><tspan font-style="italic">δη</tspan><tspan font-size="13" dy="5">stat</tspan><tspan font-size="12" dx="-21" dy="-16">A</tspan><tspan dx="13" dy="11"> − </tspan><tspan font-style="italic">δη</tspan><tspan font-size="13" dy="5">stat</tspan><tspan font-size="12" dx="-21" dy="-16">B</tspan></text>
<path d="M1109.4,1225.6 L1370.1,1055.3" stroke="#000" stroke-width="1.6"/>
<path d="M1214.6,1157 L1265.7,1157 L1265.7,1123.1" fill="none" stroke="#000" stroke-width="1.6"/>
<text x="1239.7" y="1174" font-size="17.5" text-anchor="middle">2</text>
<text x="1274" y="1146.6" font-size="17.5" text-anchor="middle">1</text>
<g transform="translate(942.7,942.7) scale(0.3987,0.2422)" fill="none" stroke="#3a6ee0">
<ellipse vector-effect="non-scaling-stroke" stroke-width="1.6" cx="283" cy="1098" rx="13" ry="21.5"/><ellipse vector-effect="non-scaling-stroke" stroke-width="1.6" cx="322" cy="1050" rx="13" ry="21.5"/><ellipse vector-effect="non-scaling-stroke" stroke-width="1.6" cx="358" cy="1012" rx="13" ry="21.5"/><ellipse vector-effect="non-scaling-stroke" stroke-width="1.6" cx="395" cy="975" rx="13" ry="21.5"/><ellipse vector-effect="non-scaling-stroke" stroke-width="1.6" cx="428" cy="937" rx="13" ry="21.5"/><ellipse vector-effect="non-scaling-stroke" stroke-width="1.6" cx="460" cy="900" rx="13" ry="21.5"/><ellipse vector-effect="non-scaling-stroke" stroke-width="1.6" cx="492" cy="868" rx="13" ry="21.5"/><ellipse vector-effect="non-scaling-stroke" stroke-width="1.6" cx="522" cy="830" rx="13" ry="21.5"/><ellipse vector-effect="non-scaling-stroke" stroke-width="1.6" cx="550" cy="800" rx="13" ry="21.5"/><ellipse vector-effect="non-scaling-stroke" stroke-width="1.6" cx="578" cy="768" rx="13" ry="21.5"/><ellipse vector-effect="non-scaling-stroke" stroke-width="1.6" cx="605" cy="737" rx="13" ry="21.5"/><ellipse vector-effect="non-scaling-stroke" stroke-width="1.6" cx="632" cy="707" rx="13" ry="21.5"/><ellipse vector-effect="non-scaling-stroke" stroke-width="1.6" cx="657" cy="680" rx="13" ry="21.5"/><ellipse vector-effect="non-scaling-stroke" stroke-width="1.6" cx="682" cy="653" rx="13" ry="21.5"/><ellipse vector-effect="non-scaling-stroke" stroke-width="1.6" cx="705" cy="628" rx="13" ry="21.5"/><ellipse vector-effect="non-scaling-stroke" stroke-width="1.6" cx="728" cy="602" rx="13" ry="21.5"/><ellipse vector-effect="non-scaling-stroke" stroke-width="1.6" cx="750" cy="577" rx="13" ry="21.5"/><ellipse vector-effect="non-scaling-stroke" stroke-width="1.6" cx="772" cy="553" rx="13" ry="21.5"/><ellipse vector-effect="non-scaling-stroke" stroke-width="1.6" cx="793" cy="530" rx="13" ry="21.5"/><ellipse vector-effect="non-scaling-stroke" stroke-width="1.6" cx="812" cy="508" rx="13" ry="21.5"/><ellipse vector-effect="non-scaling-stroke" stroke-width="1.6" cx="832" cy="487" rx="13" ry="21.5"/><ellipse vector-effect="non-scaling-stroke" stroke-width="1.6" cx="850" cy="465" rx="13" ry="21.5"/><ellipse vector-effect="non-scaling-stroke" stroke-width="1.6" cx="868" cy="445" rx="13" ry="21.5"/><ellipse vector-effect="non-scaling-stroke" stroke-width="1.6" cx="886" cy="425" rx="13" ry="21.5"/><ellipse vector-effect="non-scaling-stroke" stroke-width="1.6" cx="903" cy="405" rx="13" ry="21.5"/><ellipse vector-effect="non-scaling-stroke" stroke-width="1.6" cx="920" cy="385" rx="13" ry="21.5"/><ellipse vector-effect="non-scaling-stroke" stroke-width="1.6" cx="936" cy="368" rx="13" ry="21.5"/><ellipse vector-effect="non-scaling-stroke" stroke-width="1.6" cx="952" cy="350" rx="13" ry="21.5"/><ellipse vector-effect="non-scaling-stroke" stroke-width="1.6" cx="968" cy="333" rx="13" ry="21.5"/><ellipse vector-effect="non-scaling-stroke" stroke-width="1.6" cx="983" cy="318" rx="13" ry="21.5"/><ellipse vector-effect="non-scaling-stroke" stroke-width="1.6" cx="998" cy="302" rx="13" ry="21.5"/><ellipse vector-effect="non-scaling-stroke" stroke-width="1.6" cx="1012" cy="287" rx="13" ry="21.5"/><ellipse vector-effect="non-scaling-stroke" stroke-width="1.6" cx="1025" cy="272" rx="13" ry="21.5"/><ellipse vector-effect="non-scaling-stroke" stroke-width="1.6" cx="1036" cy="258" rx="13" ry="21.5"/><ellipse vector-effect="non-scaling-stroke" stroke-width="1.6" cx="1045" cy="245" rx="13" ry="21.5"/><ellipse vector-effect="non-scaling-stroke" stroke-width="1.6" cx="1053" cy="232" rx="13" ry="21.5"/><ellipse vector-effect="non-scaling-stroke" stroke-width="1.6" cx="1060" cy="215" rx="13" ry="21.5"/>
</g>
<g transform="translate(942.7,942.7) scale(0.3987,0.2422)" fill="none" stroke="#d23c10">
<ellipse vector-effect="non-scaling-stroke" stroke-width="1.6" cx="320" cy="1078" rx="13" ry="21.5"/><ellipse vector-effect="non-scaling-stroke" stroke-width="1.6" cx="357" cy="1055" rx="13" ry="21.5"/><ellipse vector-effect="non-scaling-stroke" stroke-width="1.6" cx="393" cy="1033" rx="13" ry="21.5"/><ellipse vector-effect="non-scaling-stroke" stroke-width="1.6" cx="425" cy="1012" rx="13" ry="21.5"/><ellipse vector-effect="non-scaling-stroke" stroke-width="1.6" cx="457" cy="988" rx="13" ry="21.5"/><ellipse vector-effect="non-scaling-stroke" stroke-width="1.6" cx="487" cy="965" rx="13" ry="21.5"/><ellipse vector-effect="non-scaling-stroke" stroke-width="1.6" cx="515" cy="942" rx="13" ry="21.5"/><ellipse vector-effect="non-scaling-stroke" stroke-width="1.6" cx="543" cy="920" rx="13" ry="21.5"/><ellipse vector-effect="non-scaling-stroke" stroke-width="1.6" cx="570" cy="898" rx="13" ry="21.5"/><ellipse vector-effect="non-scaling-stroke" stroke-width="1.6" cx="597" cy="878" rx="13" ry="21.5"/><ellipse vector-effect="non-scaling-stroke" stroke-width="1.6" cx="620" cy="857" rx="13" ry="21.5"/><ellipse vector-effect="non-scaling-stroke" stroke-width="1.6" cx="643" cy="835" rx="13" ry="21.5"/><ellipse vector-effect="non-scaling-stroke" stroke-width="1.6" cx="663" cy="818" rx="13" ry="21.5"/><ellipse vector-effect="non-scaling-stroke" stroke-width="1.6" cx="685" cy="800" rx="13" ry="21.5"/><ellipse vector-effect="non-scaling-stroke" stroke-width="1.6" cx="705" cy="782" rx="13" ry="21.5"/><ellipse vector-effect="non-scaling-stroke" stroke-width="1.6" cx="725" cy="765" rx="13" ry="21.5"/><ellipse vector-effect="non-scaling-stroke" stroke-width="1.6" cx="745" cy="745" rx="13" ry="21.5"/><ellipse vector-effect="non-scaling-stroke" stroke-width="1.6" cx="765" cy="727" rx="13" ry="21.5"/><ellipse vector-effect="non-scaling-stroke" stroke-width="1.6" cx="783" cy="710" rx="13" ry="21.5"/><ellipse vector-effect="non-scaling-stroke" stroke-width="1.6" cx="800" cy="692" rx="13" ry="21.5"/><ellipse vector-effect="non-scaling-stroke" stroke-width="1.6" cx="818" cy="675" rx="13" ry="21.5"/><ellipse vector-effect="non-scaling-stroke" stroke-width="1.6" cx="835" cy="660" rx="13" ry="21.5"/><ellipse vector-effect="non-scaling-stroke" stroke-width="1.6" cx="852" cy="642" rx="13" ry="21.5"/><ellipse vector-effect="non-scaling-stroke" stroke-width="1.6" cx="868" cy="625" rx="13" ry="21.5"/><ellipse vector-effect="non-scaling-stroke" stroke-width="1.6" cx="885" cy="608" rx="13" ry="21.5"/><ellipse vector-effect="non-scaling-stroke" stroke-width="1.6" cx="900" cy="592" rx="13" ry="21.5"/><ellipse vector-effect="non-scaling-stroke" stroke-width="1.6" cx="915" cy="578" rx="13" ry="21.5"/><ellipse vector-effect="non-scaling-stroke" stroke-width="1.6" cx="930" cy="560" rx="13" ry="21.5"/><ellipse vector-effect="non-scaling-stroke" stroke-width="1.6" cx="945" cy="545" rx="13" ry="21.5"/><ellipse vector-effect="non-scaling-stroke" stroke-width="1.6" cx="958" cy="532" rx="13" ry="21.5"/><ellipse vector-effect="non-scaling-stroke" stroke-width="1.6" cx="972" cy="518" rx="13" ry="21.5"/><ellipse vector-effect="non-scaling-stroke" stroke-width="1.6" cx="985" cy="505" rx="13" ry="21.5"/><ellipse vector-effect="non-scaling-stroke" stroke-width="1.6" cx="998" cy="492" rx="13" ry="21.5"/><ellipse vector-effect="non-scaling-stroke" stroke-width="1.6" cx="1010" cy="480" rx="13" ry="21.5"/><ellipse vector-effect="non-scaling-stroke" stroke-width="1.6" cx="1022" cy="468" rx="13" ry="21.5"/><ellipse vector-effect="non-scaling-stroke" stroke-width="1.6" cx="1032" cy="456" rx="13" ry="21.5"/><ellipse vector-effect="non-scaling-stroke" stroke-width="1.6" cx="1043" cy="444" rx="13" ry="21.5"/><ellipse vector-effect="non-scaling-stroke" stroke-width="1.6" cx="1052" cy="432" rx="13" ry="21.5"/><ellipse vector-effect="non-scaling-stroke" stroke-width="1.6" cx="1060" cy="424" rx="13" ry="21.5"/><ellipse vector-effect="non-scaling-stroke" stroke-width="1.6" cx="1065" cy="420" rx="13" ry="21.5"/>
</g>
<text x="1389.2" y="999.6" font-size="19" fill="#3a6ee0"><tspan font-style="italic">D</tspan><tspan font-size="12" dy="-9">A</tspan><tspan font-size="12" dx="-8" dy="14">m</tspan><tspan dy="-5"> = </tspan><tspan font-style="italic">D</tspan><tspan font-size="12" dy="-9">B</tspan><tspan font-size="12" dx="-8" dy="14">m</tspan><tspan dy="-5"> varied</tspan></text>
<text x="1389.2" y="1049.3" font-size="19" fill="#d23c10"><tspan font-style="italic">D</tspan><tspan font-size="12" dy="-9">A</tspan><tspan font-size="12" dx="-8" dy="14">m</tspan><tspan dy="-5"> varied, </tspan><tspan font-style="italic">D</tspan><tspan font-size="12" dy="-9">B</tspan><tspan font-size="12" dx="-8" dy="14">m</tspan><tspan dy="-5"> = 0.01</tspan></text>
</svg>
</body></html>
